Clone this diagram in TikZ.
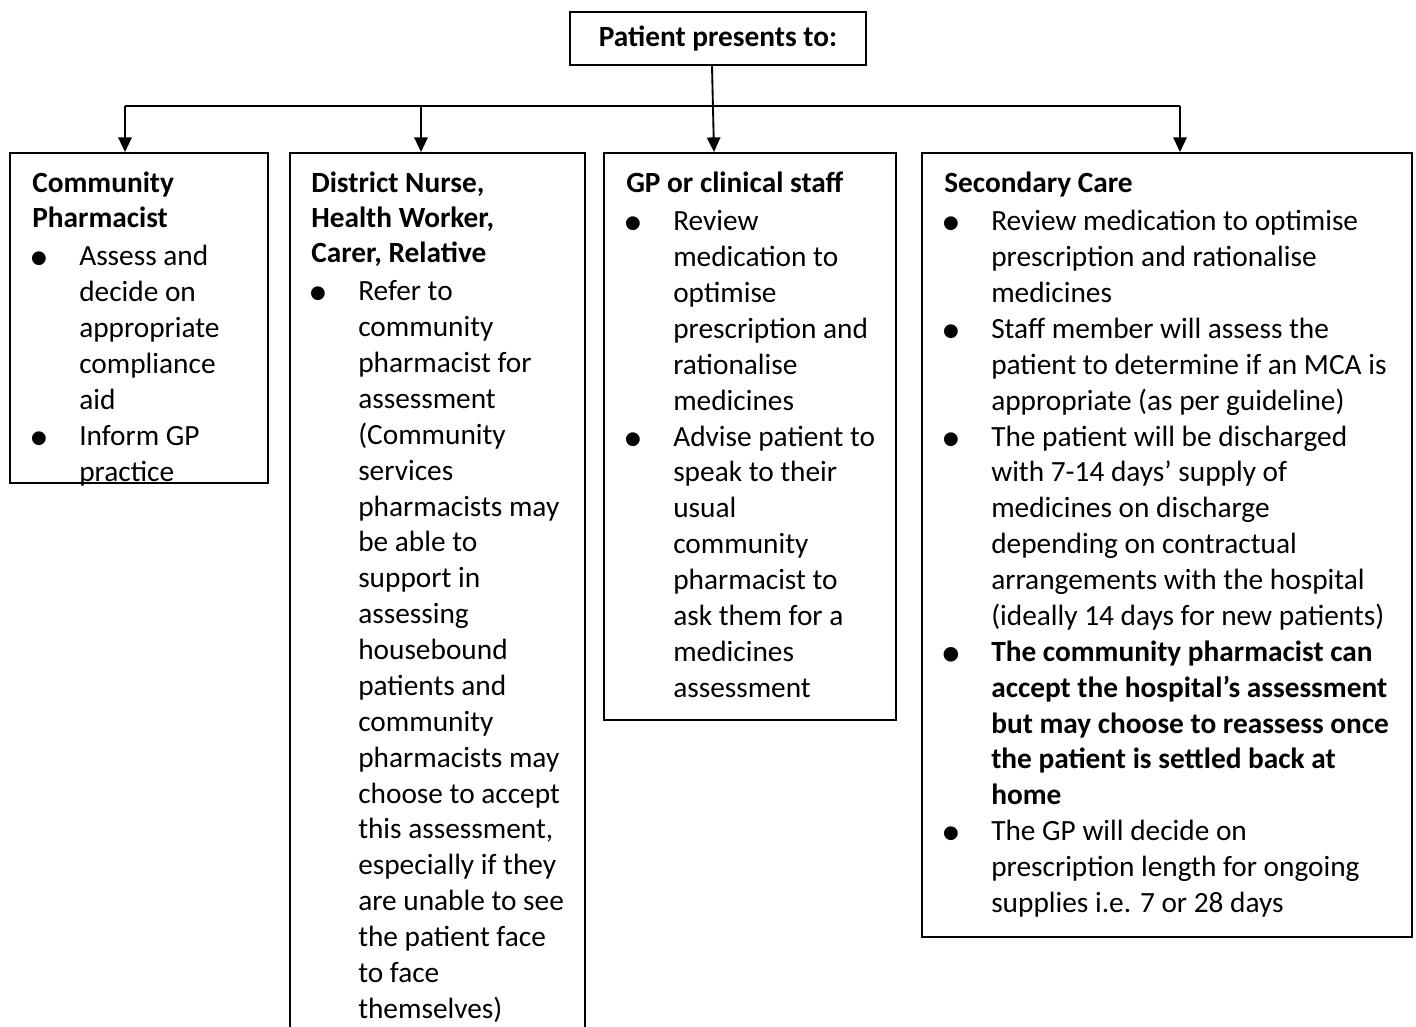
\documentclass[tikz,border=0pt]{standalone}
\usepackage{fontspec}
\setmainfont{Carlito}
\newfontfamily\bulfont{Liberation Sans}
\usetikzlibrary{arrows.meta,fit}
\newcommand\hd[1]{{\bfseries\fontsize{22}{26.25}\selectfont #1\par}\vspace{2.25pt}}
\newcommand\bul{\hspace{-1pt}\raisebox{-7.5pt}{\fontsize{38}{38}\bulfont\textbullet}}
\newcommand\bx[1]{\par\noindent\hangindent=35.25pt\hangafter=1\makebox[35.25pt][l]{\bul}#1\par}
\newcommand\txtbox[1]{\parbox[t]{400pt}{#1}}
\tikzset{
  ln/.style={line width=1.4pt},
  box/.style={draw, line width=1.4pt, inner sep=0pt},
  arr/.style={line width=1.4pt, -{Triangle[width=10pt,length=11pt]}},
  txt/.style={anchor=base west, inner sep=0pt, font=\fontsize{22}{26.9}\selectfont}
}
\begin{document}
\begin{tikzpicture}[x=0.75pt,y=-0.75pt]
\useasboundingbox (0,0) rectangle (1416,1027);
\clip (0,0) rectangle (1416,1027);
% boxes
\node[box, minimum width=222pt, minimum height=39.75pt, font=\bfseries\fontsize{22}{27}\selectfont] (top) at (718,38.5) {Patient presents to:};
\node[box, fit={(10,153)(268,483)}] (b1) {};
\node[box, fit={(290,153)(585,1045)}] (b2) {};
\node[box, fit={(604,153)(896,720)}] (b3) {};
\node[box, fit={(922,153)(1412,937)}] (b4) {};
% texts
\node[txt] (t1) at (32,192) {\txtbox{\hd{Community\\Pharmacist}
\bx{Assess and\\decide on\\appropriate\\compliance\\aid}
\bx{Inform GP\\practice}}};
\node[txt] (t2) at (311,192) {\txtbox{\hd{District Nurse,\\Health Worker,\\Carer, Relative}
\bx{Refer to\\community\\pharmacist for\\assessment\\(Community\\services\\pharmacists may\\be able to\\support in\\assessing\\housebound\\patients and\\community\\pharmacists may\\choose to accept\\this assessment,\\especially if they\\are unable to see\\the patient face\\to face\\themselves)}}};
\node[txt] (t3) at (626,192) {\txtbox{\hd{GP or clinical staff}
\bx{Review\\medication to\\optimise\\prescription and\\rationalise\\medicines}
\bx{Advise patient to\\speak to their\\usual\\community\\pharmacist to\\ask them for a\\medicines\\assessment}}};
\node[txt] (t4) at (944,192) {\txtbox{\hd{Secondary Care}
\bx{Review medication to optimise\\prescription and rationalise\\medicines}
\bx{Staff member will assess the\\patient to determine if an MCA is\\appropriate (as per guideline)}
\bx{The patient will be discharged\\with 7-14 days’ supply of\\medicines on discharge\\depending on contractual\\arrangements with the hospital\\(ideally 14 days for new patients)}
{\bfseries\bx{The community pharmacist can\\accept the hospital’s assessment\\but may choose to reassess once\\the patient is settled back at\\home}}
\bx{The GP will decide on\\prescription length for ongoing\\supplies i.e. 7 or 28 days}}};
% connectors
\coordinate (jL) at (125,106);
\coordinate (j2) at (421,106);
\coordinate (jR) at (1180,106);
\draw[ln] (jL) -- (jR);
\draw[arr] (jL) -- (jL |- b1.north);
\draw[arr] (j2) -- (j2 |- b2.north);
\draw[arr] (jR) -- (jR |- b4.north);
\draw[arr] ([xshift=-4.5pt]top.south) -- ([xshift=-27pt]b3.north);
\end{tikzpicture}
\end{document}
